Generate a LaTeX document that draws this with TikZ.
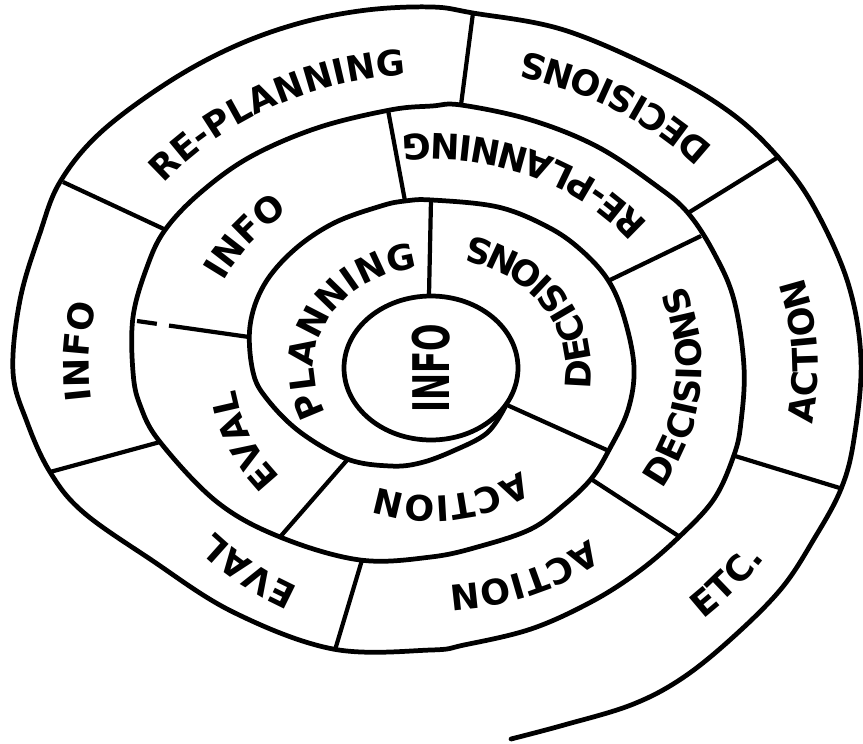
\documentclass[tikz,border=0pt]{standalone}
\usepackage{fontspec}
\setmainfont{DejaVu Sans}
\usepackage{graphicx}
\usetikzlibrary{shapes.geometric, decorations.text}
\newcommand{\ringfont}{\fontsize{20}{20}\selectfont\bfseries}

\begin{document}
\begin{tikzpicture}[
    x=0.02cm, y=-0.02cm,
    spiral/.style={line width=2.7pt, line cap=round, line join=round},
    divider/.style={line width=2.4pt},
    hub/.style={ellipse, draw, line width=2.7pt, minimum width=3.48cm, minimum height=2.88cm, inner sep=0pt, font=\fontsize{23}{23}\selectfont\bfseries},
    lbl/.style={decorate, decoration={text along path, text={|\ringfont|#1}, text align=center}}
]
\useasboundingbox (0,0) rectangle (863,744);

% Hub and the spiral that leaves it
\node[hub] (hub) at (431,368) {\rotatebox{90}{\scalebox{0.8}[1.25]{INFO}}};
\coordinate (c) at (432,368);
\draw[spiral] plot[smooth, tension=0.6] coordinates {
  (505,407) (487,433) (453,451) (420,463) (390,466) (347,459) (300,432) (267,399) (253,372)
  (250,326) (264,285) (294,250) (334,223) (381,206) (405,201) (432,200) (498,207) (548,227)
  (581,250) (608,280) (624,317) (634,367) (628,410) (609,450) (591,479) (564,505) (531,529)
  (481,546) (431,557) (360,560) (280,537) (217,502) (160,442) (140,405) (133,372) (133,317)
  (147,267) (165,230) (200,193) (250,157) (317,128) (390,110) (432,106) (461,105) (531,120)
  (598,147) (658,187) (688,213) (714,253) (734,300) (744,367) (741,422) (734,455) (714,499)
  (679,537) (638,572) (591,602) (531,629) (464,645) (431,650) (333,649) (233,612) (150,559)
  (83,512) (50,472) (27,422) (13,372) (20,300) (40,233) (60,182) (100,133) (167,83) (233,47)
  (300,23) (367,10) (432,7) (473,13) (564,30) (664,73) (731,113) (778,157) (814,207) (848,283)
  (861,360) (854,439) (841,489) (814,539) (781,589) (731,639) (681,679) (631,705) (564,725)
  (511,739)};

% Divider ends, inner then outer
\coordinate (d1a) at (429,295);  \coordinate (d1b) at (431,200);
\coordinate (d2a) at (507,405);  \coordinate (d2b) at (609,451);
\coordinate (d3a) at (348,459);  \coordinate (d3b) at (280,537);
\coordinate (d4a) at (249,337);  \coordinate (d4b) at (137,321);
\coordinate (d5a) at (405,201);  \coordinate (d5b) at (388,110);
\coordinate (d6a) at (608,281);  \coordinate (d6b) at (701,236);
\coordinate (d7a) at (591,479);  \coordinate (d7b) at (680,537);
\coordinate (d8a) at (362,560);  \coordinate (d8b) at (335,650);
\coordinate (d9a) at (160,442);  \coordinate (d9b) at (50,472);
\coordinate (d10a) at (166,230); \coordinate (d10b) at (63,182);
\coordinate (d11a) at (461,105); \coordinate (d11b) at (473,13);
\coordinate (d12a) at (688,213); \coordinate (d12b) at (780,156);
\coordinate (d13a) at (735,456); \coordinate (d13b) at (843,489);
\foreach \d in {d1,d2,d3,d5,d6,d7,d8,d9,d10,d11,d12,d13}
  \draw[divider] (\d a) -- (\d b);
\draw[divider, dash pattern=on 46pt off 7pt on 30pt] (d4a) -- (d4b);

% First turn
\path[lbl=PLANNING] (c) ++(127:118 and 101) arc[start angle=127, end angle=287, x radius=118, y radius=101];
\path[lbl=DECISIONS] (c) ++(38:159 and 136) arc[start angle=38, end angle=-102, x radius=159, y radius=136];
% Second turn
\path[lbl=ACTION] (c) ++(27:150 and 128) arc[start angle=27, end angle=137, x radius=150, y radius=128];
\path[lbl=EVAL] (c) ++(122:198 and 169) arc[start angle=122, end angle=192, x radius=198, y radius=169];
\path[lbl=INFO] (c) ++(188:232 and 198) arc[start angle=188, end angle=248, x radius=232, y radius=198];
\path[lbl=RE-PLANNING] (c) ++(-16:274 and 234) arc[start angle=-16, end angle=-116, x radius=274, y radius=234];
\path[lbl=DECISIONS] (c) ++(50:270 and 231) arc[start angle=50, end angle=-40, x radius=270, y radius=231];
% Third turn
\path[lbl=ACTION] (c) ++(28:255 and 218) arc[start angle=28, end angle=108, x radius=255, y radius=218];
\path[lbl=EVAL] (c) ++(99:289 and 247) arc[start angle=99, end angle=159, x radius=289, y radius=247];
\path[lbl=INFO] (c) ++(158:343 and 293) arc[start angle=158, end angle=208, x radius=343, y radius=293];
\path[lbl=RE-PLANNING] (c) ++(196:344 and 294) arc[start angle=196, end angle=286, x radius=344, y radius=294];
\path[lbl=DECISIONS] (c) ++(-18:381 and 326) arc[start angle=-18, end angle=-98, x radius=381, y radius=326];
\path[lbl=ACTION] (c) ++(27:386 and 330) arc[start angle=27, end angle=-33, x radius=386, y radius=330];
\path[lbl=ETC.] (c) ++(60:400 and 342) arc[start angle=60, end angle=20, x radius=400, y radius=342];

\end{tikzpicture}
\end{document}
